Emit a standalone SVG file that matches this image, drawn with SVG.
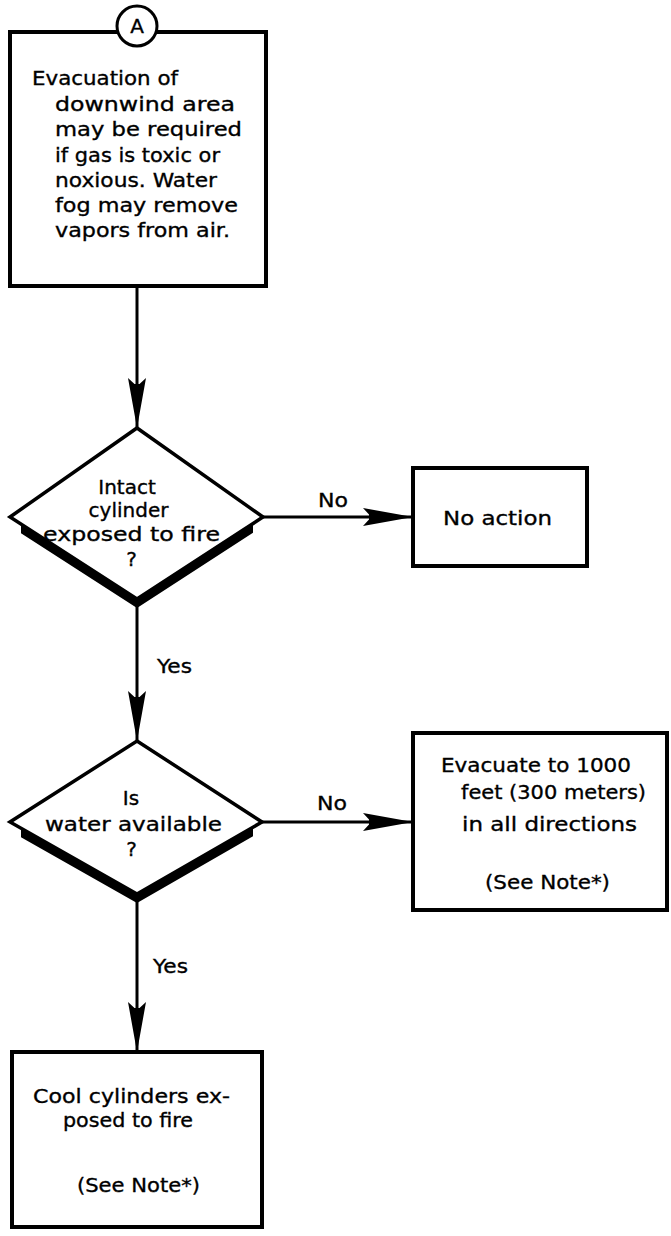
<svg xmlns="http://www.w3.org/2000/svg" width="671" height="1236" viewBox="0 0 671 1236">
  <style>
    .box { fill: #fff; stroke: #000; stroke-width: 4; }
    .dia { fill: #fff; stroke: #000; stroke-width: 3.5; stroke-linejoin: miter; }
    .shade { fill: #000; }
    .wire { stroke: #000; stroke-width: 3; fill: none; }
    text { font-family: "DejaVu Sans", "Liberation Sans", sans-serif; font-size: 20px; fill: #000; stroke: #000; stroke-width: 0.35; }
  </style>
  <defs>
    <marker id="barb" markerUnits="userSpaceOnUse" viewBox="-52 -10 54 20" markerWidth="54" markerHeight="20" refX="0" refY="0" orient="auto">
      <path d="M0,0 L-50,-9 L-44,-2.5 L-44,2.5 L-50,9 Z" fill="#000"/>
    </marker>
  </defs>

  <rect width="671" height="1236" fill="#fff"/>

  <!-- connectors -->
  <g id="connectors">
    <line class="wire" x1="137" y1="286" x2="137" y2="428" marker-end="url(#barb)"/>
    <line class="wire" x1="263" y1="517" x2="413" y2="517" marker-end="url(#barb)"/>
    <line class="wire" x1="137" y1="605" x2="137" y2="741" marker-end="url(#barb)"/>
    <line class="wire" x1="262" y1="822" x2="413" y2="822" marker-end="url(#barb)"/>
    <line class="wire" x1="137" y1="900" x2="137" y2="1052" marker-end="url(#barb)"/>
    <text x="318" y="507" textLength="30" lengthAdjust="spacingAndGlyphs">No</text>
    <text x="157" y="673" textLength="35" lengthAdjust="spacingAndGlyphs">Yes</text>
    <text x="317" y="810" textLength="30" lengthAdjust="spacingAndGlyphs">No</text>
    <text x="153" y="973" textLength="35" lengthAdjust="spacingAndGlyphs">Yes</text>
  </g>

  <!-- entry box with connector circle A -->
  <g id="node-evacuation-downwind">
    <rect class="box" x="10" y="32" width="256" height="254"/>
    <circle cx="137" cy="26" r="20" fill="#fff" stroke="#000" stroke-width="3"/>
    <text x="137" y="33" text-anchor="middle">A</text>
    <text x="32" y="85" textLength="146" lengthAdjust="spacingAndGlyphs">Evacuation of</text>
    <text x="55" y="111" textLength="180" lengthAdjust="spacingAndGlyphs">downwind area</text>
    <text x="55" y="136" textLength="187" lengthAdjust="spacingAndGlyphs">may be required</text>
    <text x="55" y="162" textLength="165" lengthAdjust="spacingAndGlyphs">if gas is toxic or</text>
    <text x="55" y="187" textLength="162" lengthAdjust="spacingAndGlyphs">noxious. Water</text>
    <text x="55" y="212" textLength="183" lengthAdjust="spacingAndGlyphs">fog may remove</text>
    <text x="55" y="237" textLength="175" lengthAdjust="spacingAndGlyphs">vapors from air.</text>
  </g>

  <!-- decision: intact cylinder exposed -->
  <g id="node-intact-cylinder">
    <polygon class="dia" points="137,428 263,517 137,599 10,517"/>
    <polygon class="shade" points="21,524.3 137,599 253,523.7 253,532.7 137,608 21,533.3"/>
    <text x="127" y="494" text-anchor="middle">Intact</text>
    <text x="128.5" y="517" text-anchor="middle">cylinder</text>
    <text x="43" y="541" textLength="177" lengthAdjust="spacingAndGlyphs">exposed to fire</text>
    <text x="131.5" y="566" text-anchor="middle">?</text>
  </g>

  <!-- outcome: no action -->
  <g id="node-no-action">
    <rect class="box" x="413" y="468" width="174" height="98"/>
    <text x="443" y="525" textLength="109" lengthAdjust="spacingAndGlyphs">No action</text>
  </g>

  <!-- decision: water available -->
  <g id="node-water-available">
    <polygon class="dia" points="137,741 262,822 137,894 10,822"/>
    <polygon class="shade" points="21,828.2 137,894 253,827.2 253,836.2 137,903 21,837.2"/>
    <text x="131" y="805" text-anchor="middle">Is</text>
    <text x="45" y="831" textLength="177" lengthAdjust="spacingAndGlyphs">water available</text>
    <text x="131.5" y="856" text-anchor="middle">?</text>
  </g>

  <!-- outcome: evacuate -->
  <g id="node-evacuate">
    <rect class="box" x="413" y="733" width="254" height="177"/>
    <text x="441" y="772" textLength="190" lengthAdjust="spacingAndGlyphs">Evacuate to 1000</text>
    <text x="461" y="799" textLength="185" lengthAdjust="spacingAndGlyphs">feet (300 meters)</text>
    <text x="462" y="831" textLength="175" lengthAdjust="spacingAndGlyphs">in all directions</text>
    <text x="485" y="889" textLength="125" lengthAdjust="spacingAndGlyphs">(See Note*)</text>
  </g>

  <!-- outcome: cool cylinders -->
  <g id="node-cool-cylinders">
    <rect class="box" x="12" y="1052" width="250" height="175"/>
    <text x="33" y="1103" textLength="197" lengthAdjust="spacingAndGlyphs">Cool cylinders ex-</text>
    <text x="63" y="1127" textLength="130" lengthAdjust="spacingAndGlyphs">posed to fire</text>
    <text x="77" y="1192" textLength="123" lengthAdjust="spacingAndGlyphs">(See Note*)</text>
  </g>
</svg>
